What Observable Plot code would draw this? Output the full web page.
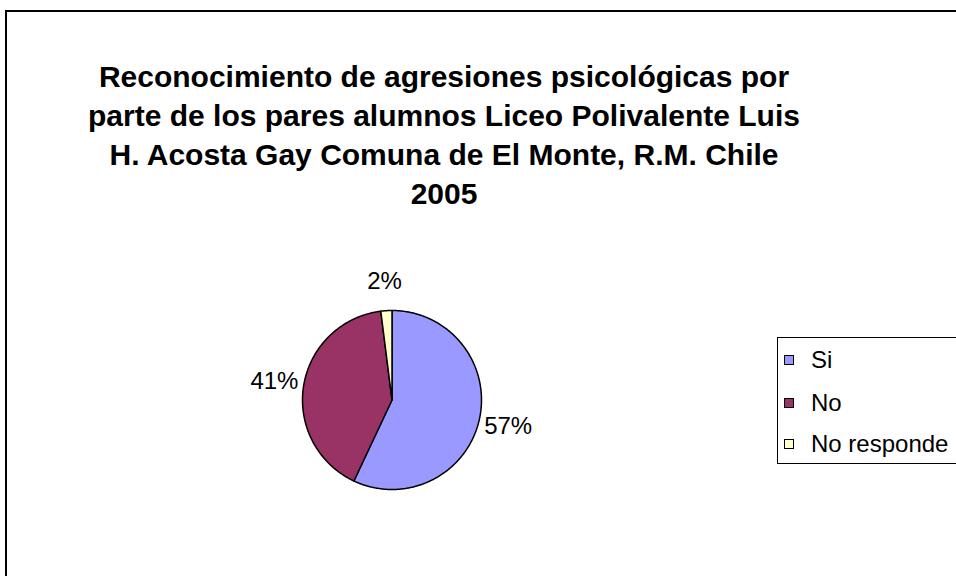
<!DOCTYPE html>
<html><head><meta charset="utf-8">
<script src="https://cdn.jsdelivr.net/npm/d3@7"></script>
<script src="https://cdn.jsdelivr.net/npm/@observablehq/plot@0.6"></script>
<style>
body{margin:0;background:#fff;font-family:"Liberation Sans",Arial,sans-serif;}
#wrap{position:relative;width:956px;height:576px;overflow:hidden;background:#fff;}
#frame{position:absolute;left:5px;top:10px;width:1100px;height:800px;border:2px solid #000;box-sizing:border-box;}
#title{position:absolute;left:44px;width:800px;top:57px;text-align:center;font-weight:bold;font-size:30px;line-height:39px;white-space:nowrap;color:#000;}
#chart{position:absolute;left:0;top:0;}
#legend{position:absolute;left:777px;top:337px;width:220px;height:127px;border:1px solid #000;box-sizing:border-box;background:#fff;}
.item{position:absolute;left:6px;height:24px;font-size:24px;line-height:24px;white-space:nowrap;}
.sw{position:absolute;left:0;top:7px;width:10px;height:10px;border:1px solid #000;box-sizing:border-box;}
.lt{position:absolute;left:27px;top:0;}
</style>
</head><body>
<div id="wrap">
  <div id="frame"></div>
  <div id="chart"></div>
  <div id="title">Reconocimiento de agresiones psicológicas por<br>parte de los pares alumnos Liceo Polivalente Luis<br>H. Acosta Gay Comuna de El Monte, R.M. Chile<br>2005</div>
  <div id="legend"></div>
</div>
<script>
const categories = ["Si", "No", "No responde"];
const values = [57, 41, 2];
const labels = ["57%", "41%", "2%"];
const colors = ["#9999FF", "#993366", "#FFFFCC"];

const arcs = d3.pie().sort(null).value(d => d)(values);
const pts = [];
const labelData = [];
arcs.forEach((a, i) => {
  const cat = categories[i];
  const n = Math.max(2, Math.ceil((a.endAngle - a.startAngle) / 0.01));
  pts.push({cat, x: 0, y: 0});
  for (let k = 0; k <= n; k++) {
    const t = a.startAngle + (a.endAngle - a.startAngle) * k / n;
    pts.push({cat, x: Math.sin(t), y: Math.cos(t)});
  }
  pts.push({cat, x: 0, y: 0});
  const m = (a.startAngle + a.endAngle) / 2;
  labelData.push({label: labels[i], x: 1.33 * Math.sin(m), y: 1.33 * Math.cos(m)});
});

const plot = Plot.plot({
  width: 956, height: 576, margin: 0,
  style: {fontFamily: "Liberation Sans, Arial, sans-serif", fontSize: "24px", background: "transparent"},
  x: {domain: [-1, 1], range: [302, 481], axis: null},
  y: {domain: [-1, 1], range: [489, 310], axis: null},
  color: {domain: categories, range: colors},
  marks: [
    Plot.line(pts, {x: "x", y: "y", z: "cat", fill: "cat", stroke: "black", strokeWidth: 1.5, strokeLinejoin: "round"}),
    Plot.text(labelData, {x: "x", y: "y", text: "label", fontSize: 24, fill: "black", textAnchor: "middle"})
  ]
});
document.getElementById("chart").appendChild(plot);

const leg = document.getElementById("legend");
const tops = [10, 53, 94];
categories.forEach((c, i) => {
  const it = document.createElement("div");
  it.className = "item";
  it.style.top = tops[i] + "px";
  it.innerHTML = `<div class="sw" style="background:${colors[i]}"></div><span class="lt">${c}</span>`;
  leg.appendChild(it);
});
</script>
</body></html>
